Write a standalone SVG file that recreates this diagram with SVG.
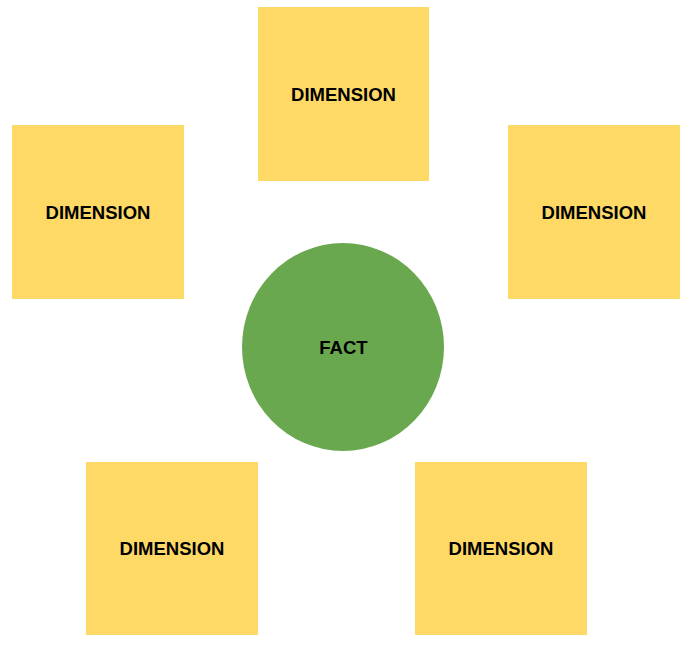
<svg xmlns="http://www.w3.org/2000/svg" width="691" height="646" viewBox="0 0 691 646">
<style>
.dim{fill:#FFD966}
.fact{fill:#6AA84F}
.t{font-family:"Liberation Sans",Arial,sans-serif;font-weight:bold;font-size:18.5px;fill:#000;text-anchor:middle}
</style>
<rect width="691" height="646" fill="#fff"/>
<g id="connectors"></g>
<g id="dim-top"><rect class="dim" x="258" y="7" width="171" height="174"/><text class="t" x="343.5" y="100.5">DIMENSION</text></g>
<g id="dim-left"><rect class="dim" x="12" y="125" width="172" height="174"/><text class="t" x="98" y="218.5">DIMENSION</text></g>
<g id="dim-right"><rect class="dim" x="508" y="125" width="172" height="174"/><text class="t" x="594" y="218.5">DIMENSION</text></g>
<g id="fact"><ellipse class="fact" cx="343" cy="347" rx="101" ry="104"/><text class="t" x="343.5" y="353.5">FACT</text></g>
<g id="dim-bottom-left"><rect class="dim" x="86" y="462" width="172" height="173"/><text class="t" x="172" y="555">DIMENSION</text></g>
<g id="dim-bottom-right"><rect class="dim" x="415" y="462" width="172" height="173"/><text class="t" x="501" y="555">DIMENSION</text></g>
</svg>
